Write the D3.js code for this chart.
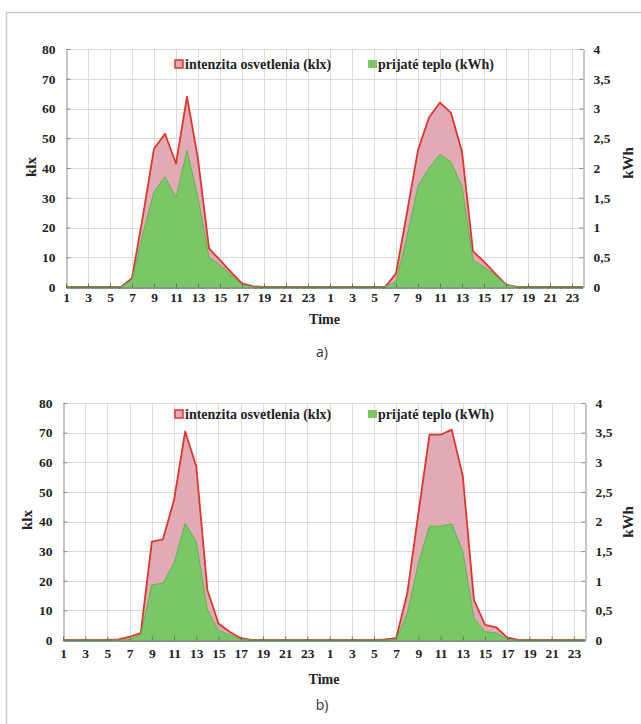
<!DOCTYPE html>
<html><head><meta charset="utf-8">
<script src="https://cdn.jsdelivr.net/npm/d3@7"></script>
<style>body{margin:0;background:#fff}svg{display:block}</style>
</head><body>
<svg id="c" width="641" height="724"></svg>
<script>
// ---- data ----
const hours = [1,2,3,4,5,6,7,8,9,10,11,12,13,14,15,16,17,18,19,20,21,22,23,24,
               1,2,3,4,5,6,7,8,9,10,11,12,13,14,15,16,17,18,19,20,21,22,23,24];
const klxA = [0,0,0,0,0,0,3,24,46.5,51.5,41.5,64,43,13,9,5,1.2,0.2,0,0,0,0,0,0,
              0,0,0,0,0,0,4.5,25,46,57,62,58.5,45.5,12,8.5,4.6,0.8,0,0,0,0,0,0,0];
const kwhA = [0,0,0,0,0,0,0.12,0.9,1.6,1.85,1.5,2.3,1.5,0.5,0.37,0.2,0.04,0,0,0,0,0,0,0,
              0,0,0,0,0,0,0.09,0.85,1.69,2.0,2.23,2.1,1.69,0.45,0.34,0.2,0.035,0,0,0,0,0,0,0];
const klxB = [0,0,0,0,0,0.2,1.1,2.3,33.2,34,47.3,70.4,58.6,16.9,5.6,2.8,0.6,0,0,0,0,0,0,0,
              0,0,0,0,0,0.2,0.6,15.8,42.8,69.3,69.3,71,55.2,13.5,5.1,4.3,0.8,0,0,0,0,0,0,0];
const kwhB = [0,0,0,0,0,0,0.015,0.085,0.93,0.96,1.3,1.97,1.66,0.51,0.17,0.085,0.01,0,0,0,0,0,0,0,
              0,0,0,0,0,0,0.01,0.45,1.3,1.92,1.92,1.96,1.49,0.37,0.14,0.12,0.01,0,0,0,0,0,0,0];
const klxTicks = [0,10,20,30,40,50,60,70,80];
const kwhTicks = [0,0.5,1,1.5,2,2.5,3,3.5,4];
const seriesNames = ["intenzita osvetlenia (klx)", "prijaté teplo (kWh)"];
const axisTitles = {x:"Time", left:"klx", right:"kWh"};
const panelLabels = ["a)", "b)"];

// ---- style ----
const SERIF = "'Liberation Serif','Times New Roman',serif";
const C = {redLine:"#e0342c", redFill:"#e2aab4", greenFill:"#79c767", greenLine:"#5db552",
           grid:"#dadada", axis:"#8a8a8a", base:"#5a7a5a", text:"#222"};

const svg = d3.select("#c");
svg.append("path").attr("d","M6.5,724V12.5H641").attr("fill","none")
  .attr("stroke","#c9c9c9").attr("stroke-width",1.5);

function panel(cfg, klx, kwh, label) {
  const {L,R,T,B} = cfg;
  const idx = hours.map((d,i)=>i);
  const x = d3.scalePoint().domain(idx).range([L,R]);
  const yL = d3.scaleLinear().domain([0,80]).range([B,T]);
  const yR = d3.scaleLinear().domain([0,4]).range([B,T]);
  const g = svg.append("g");
  const major = idx.filter(i => i % 2 === 0);

  // gridlines
  g.append("g").selectAll("line").data(klxTicks.slice(1)).join("line")
    .attr("x1",L).attr("x2",R).attr("y1",d=>Math.round(yL(d))+0.5).attr("y2",d=>Math.round(yL(d))+0.5)
    .attr("stroke",C.grid);
  g.append("g").selectAll("line").data(major.slice(1)).join("line")
    .attr("x1",d=>Math.round(x(d))+0.5).attr("x2",d=>Math.round(x(d))+0.5).attr("y1",T).attr("y2",B)
    .attr("stroke",C.grid);

  // red area + line
  g.append("path").datum(klx)
    .attr("d", d3.area().x((d,i)=>x(i)).y0(B).y1(d=>yL(d)))
    .attr("fill",C.redFill);
  g.append("path").datum(klx)
    .attr("d", d3.line().x((d,i)=>x(i)).y(d=>yL(d)))
    .attr("fill","none").attr("stroke",C.redLine).attr("stroke-width",1.8).attr("stroke-linejoin","round");
  // green area
  g.append("path").datum(kwh)
    .attr("d", d3.area().x((d,i)=>x(i)).y0(B).y1(d=>yR(d)))
    .attr("fill",C.greenFill);
  g.append("path").datum(kwh)
    .attr("d", d3.line().x((d,i)=>x(i)).y(d=>yR(d)))
    .attr("fill","none").attr("stroke",C.greenLine).attr("stroke-width",1);

  // axes
  const fmtR = d => String(d).replace(".", ",");
  const ax = g.append("g").attr("transform",`translate(${L+0.5},0)`)
    .call(d3.axisLeft(yL).tickValues(klxTicks).tickSizeInner(-4).tickSizeOuter(0).tickPadding(11));
  const axR = g.append("g").attr("transform",`translate(${R+0.5},0)`)
    .call(d3.axisRight(yR).tickValues(kwhTicks).tickFormat(fmtR).tickSizeInner(-4).tickSizeOuter(0).tickPadding(10));
  const axB = g.append("g").attr("transform",`translate(0,${B+0.5})`)
    .call(d3.axisBottom(x).tickValues(major).tickFormat(i=>hours[i]).tickSizeInner(-4).tickSizeOuter(0).tickPadding(cfg.xPad));
  [ax,axR].forEach(a => { a.select(".domain").attr("stroke",C.axis); a.selectAll(".tick line").attr("stroke",C.axis); });
  axB.select(".domain").attr("stroke",C.base).attr("stroke-width",1.5);
  axB.selectAll(".tick line").attr("stroke",C.base);
  [ax,axR,axB].forEach(a => a.selectAll("text").attr("font-family",SERIF).attr("font-weight","bold")
    .attr("font-size",13.5).attr("fill",C.text));

  // axis titles
  g.append("text").attr("transform",`translate(${(L+R)/2},${cfg.timeY}) `)
    .attr("text-anchor","middle").attr("font-family",SERIF).attr("font-weight","bold").attr("font-size",14)
    .attr("fill",C.text).text(axisTitles.x);
  g.append("text").attr("transform",`translate(${cfg.klxX},${cfg.klxY}) rotate(-90)`)
    .attr("text-anchor","middle").attr("dominant-baseline","central").attr("font-family",SERIF).attr("font-weight","bold").attr("font-size",15)
    .attr("fill",C.text).text(axisTitles.left);
  g.append("text").attr("transform",`translate(${cfg.kwhX},${cfg.kwhY}) rotate(-90)`)
    .attr("text-anchor","middle").attr("dominant-baseline","central").attr("font-family",SERIF).attr("font-weight","bold").attr("font-size",15)
    .attr("fill",C.text).text(axisTitles.right);

  // legend
  const ly = cfg.legY;
  g.append("rect").attr("x",175).attr("y",ly-4).attr("width",8).attr("height",8)
    .attr("fill",C.redFill).attr("stroke",C.redLine).attr("stroke-width",1.5);
  g.append("text").attr("x",185).attr("y",ly+4.5).attr("font-family",SERIF).attr("font-weight","bold")
    .attr("font-size",14).attr("fill",C.text).text(seriesNames[0]);
  g.append("rect").attr("x",368).attr("y",ly-4).attr("width",9).attr("height",8)
    .attr("fill",C.greenFill);
  g.append("text").attr("x",378).attr("y",ly+4.5).attr("font-family",SERIF).attr("font-weight","bold")
    .attr("font-size",14).attr("fill",C.text).text(seriesNames[1]);

  // panel label
  g.append("text").attr("x",322).attr("y",cfg.labY).attr("text-anchor","middle")
    .attr("font-family","'Open Sans','Noto Sans',sans-serif").attr("font-size",14).attr("fill","#333").text(label);
}

panel({L:66,R:583,T:49,B:287,xPad:5,timeY:324,klxX:31,klxY:167,kwhX:628,kwhY:163,legY:64,labY:357}, klxA, kwhA, panelLabels[0]);
panel({L:63,R:585,T:403,B:640,xPad:8,timeY:684,klxX:27,klxY:520,kwhX:628,kwhY:522,legY:414,labY:710}, klxB, kwhB, panelLabels[1]);
</script>
</body></html>
